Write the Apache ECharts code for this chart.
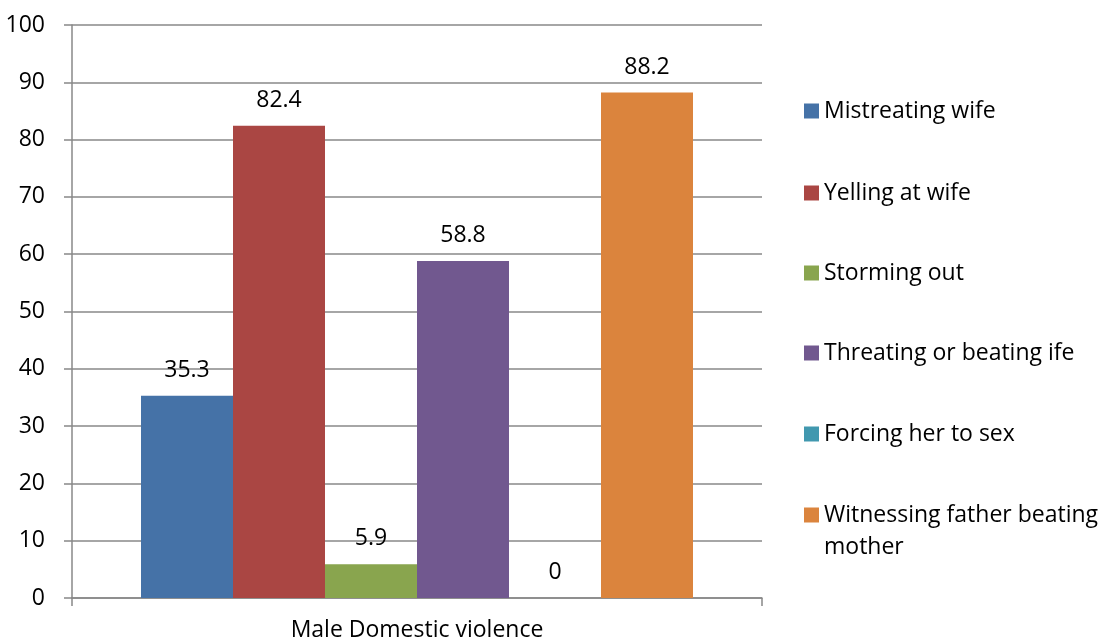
<!DOCTYPE html>
<html>
<head>
<meta charset="utf-8">
<script src="https://cdn.jsdelivr.net/npm/echarts@6/dist/echarts.min.js"></script>
<style>html,body{margin:0;padding:0;background:#fff}#c{width:1108px;height:643px}</style>
</head>
<body>
<div id="c"></div>
<script>
const categories = ['Male Domestic violence'];
const seriesNames = ['Mistreating wife', 'Yelling at wife', 'Storming out', 'Threating or beating ife', 'Forcing her to sex', 'Witnessing father beating mother'];
const seriesValues = [35.3, 82.4, 5.9, 58.8, 0, 88.2];
const yTicks = [0, 10, 20, 30, 40, 50, 60, 70, 80, 90, 100];
const colors = ['#4572A7', '#AA4643', '#89A54E', '#71588F', '#4198AF', '#DB843D'];

const FONT = 'Open Sans';
const FS = 23;
const chart = echarts.init(document.getElementById('c'));
const legendTops = [111, 193, 273, 353, 434, 515];
const legends = seriesNames.map((n, i) => {
  const twoLine = n.length > 25;
  return {
    data: [n], orient: 'vertical', left: 804,
    top: twoLine ? legendTops[i] - 48 : legendTops[i] - 13,
    padding: 0, itemGap: 0, itemWidth: 15, itemHeight: 15, icon: 'rect',
    selectedMode: false,
    formatter: twoLine ? (name) => '\n' + name.replace(/ (\S+)$/, '\n$1') : '{name}',
    textStyle: twoLine
      ? { fontSize: FS, fontFamily: FONT, color: '#000', lineHeight: 32 }
      : { fontSize: FS, fontFamily: FONT, color: '#000', lineHeight: 26 }
  };
});

chart.setOption({
  animation: false,
  color: colors,
  grid: { left: 72, right: 346, top: 25, bottom: 45, containLabel: false },
  legend: legends,
  xAxis: {
    type: 'category', data: categories,
    axisLine: { lineStyle: { color: '#888', width: 1.5 } },
    axisTick: { show: true, length: 8, lineStyle: { color: '#888', width: 1.5 } },
    axisLabel: { color: '#000', fontSize: FS, fontFamily: FONT, margin: 21 }
  },
  yAxis: {
    type: 'value', min: yTicks[0], max: yTicks[yTicks.length - 1], interval: 10,
    axisLine: { show: true, lineStyle: { color: '#888', width: 1.5 } },
    axisTick: { show: true, length: 8, lineStyle: { color: '#888', width: 1.5 } },
    splitLine: { show: true, lineStyle: { color: '#888', width: 1.5 } },
    axisLabel: { color: '#000', fontSize: FS, fontFamily: FONT, margin: 27 }
  },
  series: seriesNames.map((n, i) => ({
    name: n, type: 'bar', data: [seriesValues[i]],
    barGap: '0%', barCategoryGap: '20%',
    label: { show: true, position: 'top', distance: 14, color: '#000', fontSize: FS, fontFamily: FONT }
  }))
});
</script>
</body>
</html>
